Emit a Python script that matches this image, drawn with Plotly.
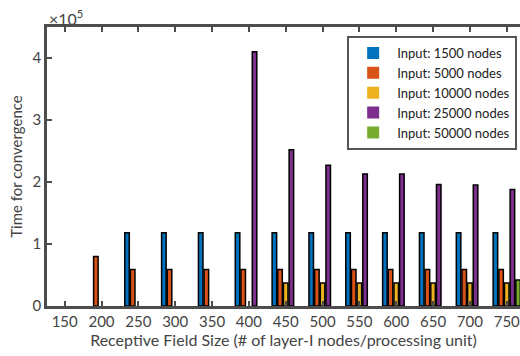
import plotly.graph_objects as go

field_sizes = [150, 200, 250, 300, 350, 400, 450, 500, 550, 600, 650, 700, 750]
series_names = ["Input: 1500 nodes", "Input: 5000 nodes", "Input: 10000 nodes",
                "Input: 25000 nodes", "Input: 50000 nodes"]
t_1500 = [0, 0, 118000, 118000, 118000, 118000, 118000, 118000, 118000, 118000, 118000, 118000, 118000]
t_5000 = [0, 80000, 59000, 59000, 59000, 59000, 59000, 59000, 59000, 59000, 59000, 59000, 59000]
t_10000 = [0, 0, 0, 0, 0, 0, 37000, 37000, 37000, 37000, 37000, 37000, 37000]
t_25000 = [0, 0, 0, 0, 0, 410000, 252000, 227000, 213000, 213000, 196000, 195000, 188000]
t_50000 = [0, 0, 0, 0, 0, 0, 0, 0, 0, 0, 0, 0, 42000]
series_values = [t_1500, t_5000, t_10000, t_25000, t_50000]
colors = ["#0072BD", "#D95319", "#EDB120", "#7E2F8E", "#77AC30"]
y_tick_vals = [0, 100000, 200000, 300000, 400000]
y_tick_text = ["0", "1", "2", "3", "4"]

FONT = "Lato"
AX = "#4d4d4d"
TXT = "#444444"

fig = go.Figure()
for name, vals, col in zip(series_names, series_values, colors):
    fig.add_trace(go.Bar(x=field_sizes, y=vals, name=name,
                         marker=dict(color=col,
                                     line=dict(color="black",
                                               width=[1.5 if v > 0 else 0 for v in vals]))))

fig.update_layout(
    width=520, height=356,
    margin=dict(l=47, r=0, t=27, b=50, autoexpand=False),
    paper_bgcolor="white", plot_bgcolor="white",
    barmode="group", bargap=0.231, bargroupgap=0.2,
    font=dict(family=FONT, size=15, color=TXT),
    legend=dict(x=0.994, y=0.968, xanchor="right", yanchor="top",
                bgcolor="white", bordercolor="#555555", borderwidth=2,
                font=dict(size=13, color="#222222"), tracegroupgap=0,
                itemwidth=38),
    showlegend=True,
)
fig.update_xaxes(range=[126, 768], tickvals=field_sizes,
                 ticktext=[str(v) for v in field_sizes],
                 automargin=False, ticklabeloverflow="allow",
                 ticks="inside", ticklen=5, tickwidth=2, tickcolor=AX,
                 showline=True, linecolor=AX, linewidth=2.5, mirror="ticks",
                 showgrid=False, zeroline=False,
                 tickfont=dict(size=15, color=TXT),
                 title=dict(text="Receptive Field Size (# of layer-I nodes/processing unit)",
                            font=dict(size=16, color=TXT), standoff=6))
fig.update_yaxes(range=[0, 450000], tickvals=y_tick_vals, ticktext=y_tick_text,
                 automargin=False,
                 ticks="inside", ticklen=5, tickwidth=2, tickcolor=AX,
                 showline=True, linecolor=AX, linewidth=2.5, mirror=False,
                 showgrid=False, zeroline=False,
                 tickfont=dict(size=15, color=TXT),
                 title=dict(text="Time for convergence", font=dict(size=15, color=TXT), standoff=7))
fig.add_annotation(text="×10<sup>5</sup>", xref="paper", yref="paper", x=0, y=1,
                   xanchor="left", yanchor="bottom", showarrow=False, yshift=-3,
                   font=dict(size=16, color=TXT))
fig.write_html("out.html", config={"displayModeBar": False},
               post_script="document.body.style.margin='0px';")
